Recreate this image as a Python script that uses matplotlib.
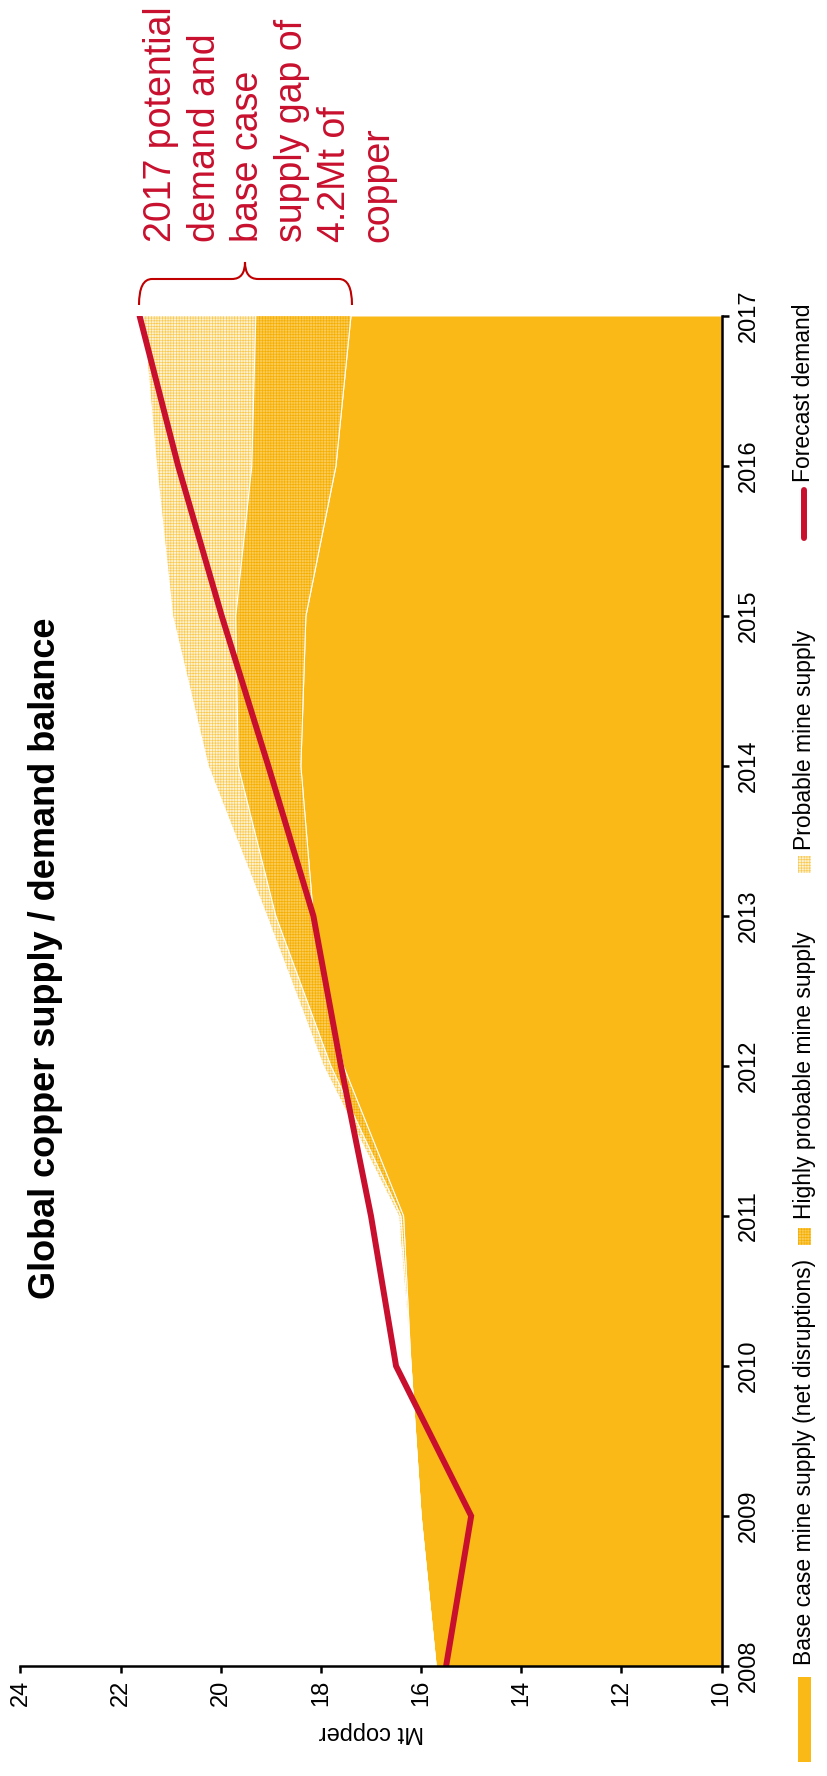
import matplotlib
matplotlib.use("Agg")
import matplotlib.pyplot as plt
from matplotlib.path import Path
from matplotlib.patches import PathPatch, Rectangle
from matplotlib.lines import Line2D

plt.rcParams['font.family'] = ['Liberation Sans', 'DejaVu Sans']
plt.rcParams['hatch.linewidth'] = 0.45

# ---------------- data ----------------
years = [2008, 2009, 2010, 2011, 2012, 2013, 2014, 2015, 2016, 2017]
base_case = [15.7, 16.0, 16.2, 16.35, 17.55, 18.15, 18.4, 18.3, 17.7, 17.4]
highly_probable_top = [15.7, 16.0, 16.2, 16.4, 17.8, 18.9, 19.65, 19.7, 19.38, 19.3]
probable_top = [15.7, 16.0, 16.2, 16.45, 17.95, 19.08, 20.25, 20.96, 21.28, 21.55]
forecast_demand = [15.5, 15.0, 16.5, 17.0, 17.6, 18.15, 19.05, 19.98, 20.85, 21.62]
value_ticks = [10, 12, 14, 16, 18, 20, 22, 24]
legend_labels = ["Base case mine supply (net disruptions)", "Highly probable mine supply",
                 "Probable mine supply", "Forecast demand"]
title = "Global copper supply / demand balance"
annotation = "2017 potential\ndemand and\nbase case\nsupply gap of\n4.2Mt of\ncopper"

ORANGE = "#FBB917"
RED = "#C8102E"
W, H = 827, 1776


def fx(x):
    return x / W


def fy(y):
    return 1 - y / H


fig = plt.figure(figsize=(W / 100, H / 100), dpi=100)
ax = fig.add_axes([fx(20.4), fy(1666), fx(721.6) - fx(20.4), fy(316) - fy(1666)])

ax.fill_betweenx(years, 10, base_case, color=ORANGE, lw=0, zorder=1)
ax.fill_betweenx(years, base_case, highly_probable_top, facecolor="#FBCB55",
                 edgecolor="#F5AE00", hatch="++++++", lw=0, zorder=1)
ax.fill_betweenx(years, highly_probable_top, probable_top, facecolor="#FFF2D0",
                 edgecolor="#F9C84E", hatch="++++++", lw=0, zorder=1)
for series in (base_case, highly_probable_top, probable_top):
    ax.plot(series, years, color="white", lw=0.8, zorder=2)
ax.plot(forecast_demand, years, color=RED, lw=4.3, solid_capstyle="round",
        solid_joinstyle="miter", zorder=3)

ax.set_xlim(24, 10)
ax.set_ylim(2008, 2017)
ax.spines['left'].set_visible(False)
ax.spines['top'].set_visible(False)
for s in ('right', 'bottom'):
    ax.spines[s].set_linewidth(1.8)
    ax.spines[s].set_zorder(4)

ax.yaxis.tick_right()
ax.set_yticks(years)
ax.set_yticklabels([str(y) for y in years], rotation=90, va='center', ha='left', fontsize=17)
ax.tick_params(axis='y', direction='out', length=5, width=1.8, pad=7)
ax.set_xticks(value_ticks)
ax.set_xticklabels([str(v) for v in value_ticks], rotation=90, va='top', ha='center', fontsize=17)
ax.tick_params(axis='x', direction='out', length=5, width=1.8, pad=5)

fig.text(fx(371), fy(1732), "Mt copper", rotation=180, ha='center', va='center', fontsize=17)

# title
fig.text(fx(46), fy(958), title, rotation=90, ha='center', va='center',
         fontsize=26, fontweight='bold')

# annotation
fig.text(fx(143), fy(242), annotation, rotation=90, rotation_mode='anchor',
         ha='left', va='top', multialignment='left', fontsize=27, color=RED,
         linespacing=1.27)

# brace
pts = [(139, 305), (139, 279), (152, 279), (232, 279), (245, 279), (245, 262),
       (245, 279), (258, 279), (339, 279), (352, 279), (352, 305)]
codes = [Path.MOVETO, Path.CURVE3, Path.CURVE3, Path.LINETO, Path.CURVE3, Path.CURVE3,
         Path.CURVE3, Path.CURVE3, Path.LINETO, Path.CURVE3, Path.CURVE3]
brace = Path([(fx(x), fy(y)) for x, y in pts], codes)
fig.add_artist(PathPatch(brace, fill=False, edgecolor="#C00000", lw=1.5,
                         transform=fig.transFigure))

# legend (manual, rotated)
LX = 804
LFS = 16.5
fig.add_artist(Rectangle((fx(798), fy(1762)), fx(13), 85 / H, transform=fig.transFigure,
                         facecolor=ORANGE, lw=0))
fig.text(fx(LX), fy(1665), legend_labels[0], rotation=90, ha='center', va='bottom', fontsize=LFS)
fig.add_artist(Rectangle((fx(798), fy(1245)), fx(13), 17 / H, transform=fig.transFigure,
                         facecolor="#FBCB55", edgecolor="#F5AE00", hatch="++++++", lw=0))
fig.text(fx(LX), fy(1219), legend_labels[1], rotation=90, ha='center', va='bottom', fontsize=LFS)
fig.add_artist(Rectangle((fx(798), fy(873)), fx(13), 17 / H, transform=fig.transFigure,
                         facecolor="#FFF2D0", edgecolor="#F9C84E", hatch="++++++", lw=0))
fig.text(fx(LX), fy(850), legend_labels[2], rotation=90, ha='center', va='bottom', fontsize=LFS)
fig.add_artist(Line2D([fx(804), fx(804)], [fy(538), fy(490)], transform=fig.transFigure,
                      color=RED, lw=4.3, solid_capstyle='round'))
fig.text(fx(LX), fy(482), legend_labels[3], rotation=90, ha='center', va='bottom', fontsize=LFS)

fig.savefig("out.png", dpi=100)
